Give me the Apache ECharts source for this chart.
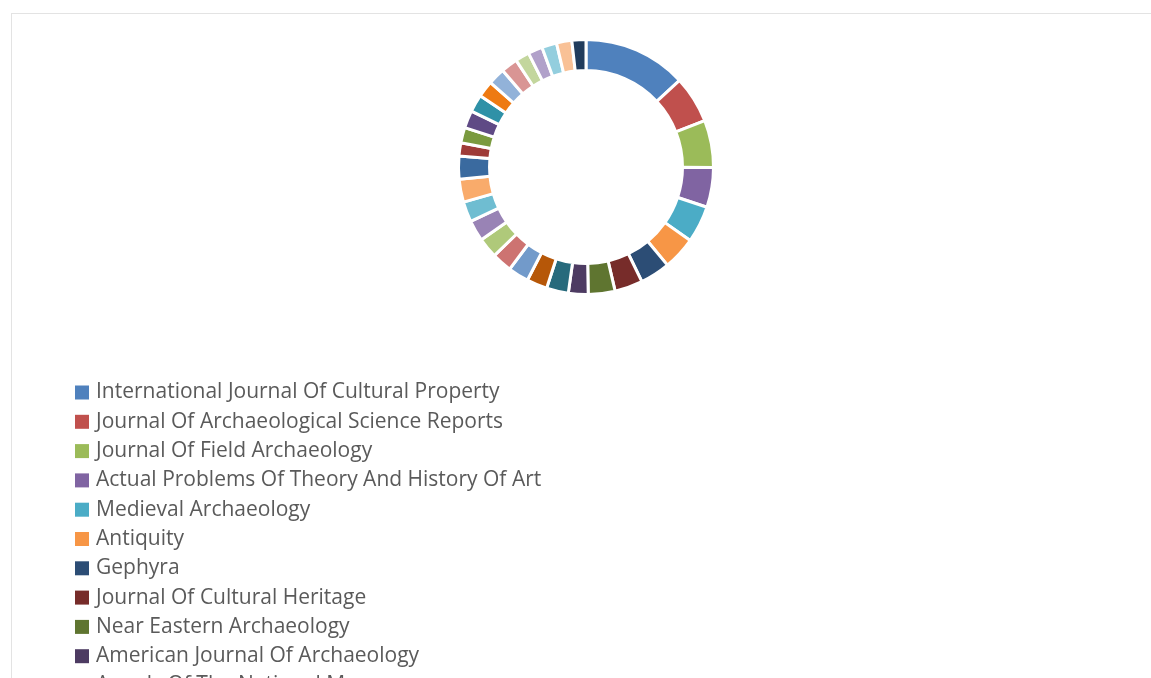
<!DOCTYPE html>
<html>
<head>
<meta charset="utf-8">
<title>Journals</title>
<script src="https://cdn.jsdelivr.net/npm/echarts@6/dist/echarts.min.js"></script>
<style>
  html, body { margin: 0; padding: 0; background: #fff; overflow: hidden; }
  .panel {
    position: absolute;
    left: 11px;
    top: 13px;
    width: 1200px;
    height: 1320px;
    border: 1px solid #e3e3e3;
  }
  #chart { width: 1200px; height: 1320px; }
</style>
</head>
<body>
<div class="panel"><div id="chart"></div></div>
<script>
  // journals, clockwise from 12 o'clock (only the first ones fit in the window)
  const journals = [
    'International Journal Of Cultural Property',
    'Journal Of Archaeological Science Reports',
    'Journal Of Field Archaeology',
    'Actual Problems Of Theory And History Of Art',
    'Medieval Archaeology',
    'Antiquity',
    'Gephyra',
    'Journal Of Cultural Heritage',
    'Near Eastern Archaeology',
    'American Journal Of Archaeology',
    'Annals Of The National Museum',
    'Journal 12', 'Journal 13', 'Journal 14', 'Journal 15', 'Journal 16',
    'Journal 17', 'Journal 18', 'Journal 19', 'Journal 20', 'Journal 21',
    'Journal 22', 'Journal 23', 'Journal 24', 'Journal 25', 'Journal 26',
    'Journal 27', 'Journal 28', 'Journal 29', 'Journal 30', 'Journal 31'
  ]
  // share of the ring (degrees)
  const shares = [
    47.2, 21.5, 21.5, 18.2, 16.8, 15.1, 13.7, 12.8, 12.2, 9.0,
    10.0, 9.4, 9.4, 9.2, 9.2, 9.6, 9.2, 10.5, 10.5, 6.0,
    7.0, 8.0, 8.0, 7.5, 7.7, 7.6, 6.4, 6.6, 6.8, 7.0, 6.4
  ]
  const colors = [
    '#4F81BD', '#C0504D', '#9BBB59', '#8064A2', '#4BACC6', '#F79646',
    '#2C4D75', '#772C2A', '#5F7530', '#4D3B62', '#276A7C', '#B65708',
    '#729ACA', '#CD7371', '#AFC97A', '#9983B5', '#6FBDD1', '#F9AB6B',
    '#3A6A9F', '#9E3B38', '#7A9A3F', '#5F4A85', '#2F91A7', '#EE7A12',
    '#92B2D9', '#D99594', '#C3D69D', '#B1A1CA', '#93CEDE', '#F9C196',
    '#213C5C'
  ]

  let chart = echarts.init(document.getElementById('chart'))
  chart.setOption({
    color: colors,
    animation: false,
    legend: {
      orient: 'vertical',
      left: 58,
      top: 363,
      itemWidth: 14,
      itemHeight: 14,
      itemGap: 8.3,
      icon: 'rect',
      selectedMode: false,
      itemStyle: { borderWidth: 0 },
      textStyle: {
        fontFamily: 'Open Sans',
        fontSize: 21,
        lineHeight: 21,
        padding: [0, 0, 0, 2],
        color: '#5a5a5a'
      },
      data: journals
    },
    series: [
      {
        type: 'pie',
        center: [574, 153],
        radius: [96.5, 127.5],
        startAngle: 90,
        label: { show: false },
        labelLine: { show: false },
        itemStyle: { borderColor: '#fff', borderWidth: 3 },
        data: journals.map((name, i) => ({ name: name, value: shares[i] }))
      }
    ]
  })
</script>
</body>
</html>
